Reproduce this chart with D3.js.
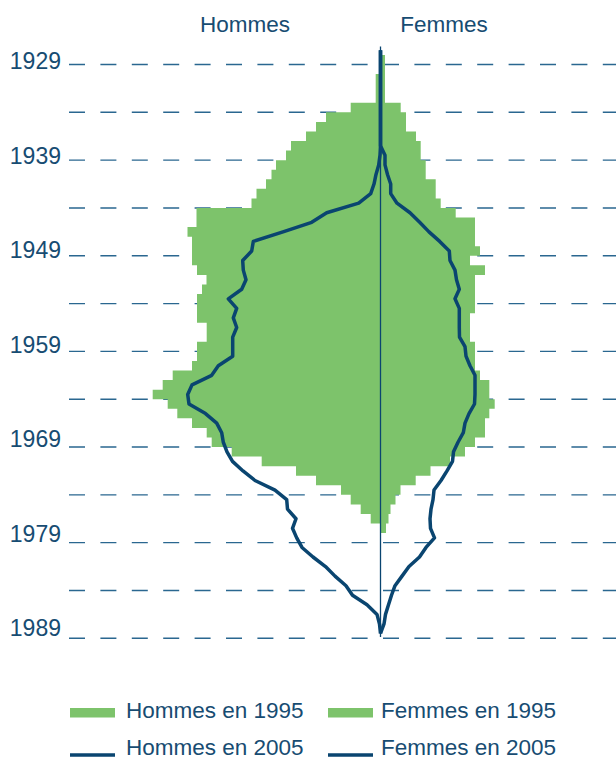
<!DOCTYPE html>
<html>
<head>
<meta charset="utf-8">
<script src="https://cdn.jsdelivr.net/npm/d3@7"></script>
<style>
  body { margin: 0; background: #fff; }
  text { font-family: "Liberation Sans", Arial, sans-serif; fill: #174c72; }
</style>
</head>
<body>
<script>
// birth years shown on the axis (one dashed line every 5 years, label every 10)
const gridYears = d3.range(1929, 1990, 5);
const labelYears = [1929, 1939, 1949, 1959, 1969, 1979, 1989];

// 1995 pyramid, one value per year of birth
const years1995 = d3.range(1928, 1978);
const hommes1995 = [
  0, 0, 4.8, 4.8, 4.8, 29.8, 54.5, 64.5, 74.5, 89.5,
  94.5, 104.5, 109, 114.5, 124, 129, 184, 184, 193, 188.5,
  188.5, 188.5, 183.5, 174, 178.5, 183.5, 183.5, 183.5, 173.8, 173.8,
  183.5, 183.5, 188.5, 207.8, 217.8, 227.8, 212.8, 203.2, 188.5, 173.8,
  168.8, 148.8, 118.8, 84.5, 64.5, 39.5, 29.8, 19.8, 9.8, 0
];
const femmes1995 = [
  4.5, 4.5, 4.5, 4.5, 4.5, 20.2, 25.5, 25.5, 35.5, 40.2,
  40.2, 45.2, 45.2, 55.2, 55.2, 60.2, 75.2, 94.5, 94.5, 94.5,
  99.5, 89.5, 104.5, 94.5, 94.5, 94.5, 94.5, 89.5, 89.5, 89.5,
  94.5, 94.5, 94.5, 99.5, 108.8, 108.8, 114.2, 108.8, 104.5, 104.5,
  94.5, 84.5, 69.5, 50, 35.2, 20, 15, 10, 8, 5.5
];

// 2005 profiles
const years2005 = d3.range(1927, 1989);
const hommes2005 = [
  0, 0, 0, 0, 0, 0, 0, 0, 0, 0,
  0, 0.5, 1.8, 4.5, 6.5, 9.8, 21.8, 53.8, 68.8, 97.5,
  127.2, 128.8, 137.8, 137.2, 134.5, 138.8, 152.2, 143.8, 147.2, 143.8,
  147.8, 147.8, 147.8, 162.2, 168.8, 188.5, 192.8, 191.5, 175, 163.8,
  158.8, 157.2, 153.5, 148, 137.5, 125.5, 105.5, 93.8, 93, 84.5,
  88, 83.8, 78.5, 67.5, 55, 45.5, 34.5, 28, 13.5, 3.5,
  1, 0
];
const femmes2005 = [
  0, 0, 0, 0, 0, 0, 0, 0, 0, 0,
  0, 4.5, 4.5, 7, 10.2, 10.2, 16.5, 29.5, 39.2, 48.5,
  59.2, 68.8, 69.5, 74.5, 76, 78.8, 74.5, 78.8, 78.8, 78.8,
  79, 84.5, 85.5, 89.5, 94.5, 94.5, 94.5, 94, 88.5, 84.5,
  82.8, 77.5, 73, 72, 66.5, 60.5, 53.5, 52.5, 50.5, 49.5,
  50, 54, 45.5, 39, 28.5, 21.5, 14.5, 11, 8, 5,
  3.5, 0
];

const legendItems = [
  { label: "Hommes en 1995", type: "area" },
  { label: "Femmes en 1995", type: "area" },
  { label: "Hommes en 2005", type: "line" },
  { label: "Femmes en 2005", type: "line" }
];

const W = 616, H = 760;
const green = "#7dc36b";
const navy = "#0a4570";
const dashCol = "#2a6790";

const svg = d3.select("body").append("svg")
  .attr("width", W)
  .attr("height", H);

// scales: men negative (left), women positive (right)
const x = d3.scaleLinear().domain([-240, 240]).range([140.5, 620.5]);
const y = d3.scaleLinear().domain([1929, 1989]).range([64.5, 638.3]);
const yLab = d3.scaleLinear().domain([1929, 1989]).range([69.3, 636]);

// dashed grid
svg.append("g")
  .selectAll("line")
  .data(gridYears)
  .join("line")
  .attr("x1", 69)
  .attr("x2", W)
  .attr("y1", (d) => y(d))
  .attr("y2", (d) => y(d))
  .attr("stroke", dashCol)
  .attr("stroke-width", 1.4)
  .attr("stroke-dasharray", "16,15.4");

// 1995 step areas
function steps(years, values, sign) {
  const pts = [];
  years.forEach((yr, i) => {
    pts.push({ v: sign * values[i], yr: yr });
    pts.push({ v: sign * values[i], yr: yr + 1 });
  });
  return pts;
}
const stepArea = d3.area()
  .y((d) => y(d.yr))
  .x0(x(0))
  .x1((d) => x(d.v));

svg.append("path")
  .datum(steps(years1995, hommes1995, -1))
  .attr("d", stepArea)
  .attr("fill", green);
svg.append("path")
  .datum(steps(years1995, femmes1995, 1))
  .attr("fill", green)
  .attr("d", stepArea);

// centre axis
svg.append("line")
  .attr("x1", x(0)).attr("x2", x(0))
  .attr("y1", 46.5).attr("y2", 637)
  .attr("stroke", navy)
  .attr("stroke-width", 1.3);

// 2005 lines
const line = d3.line()
  .x((d) => x(d.v))
  .y((d) => y(d.yr + 0.5));

svg.append("path")
  .datum(years2005.map((yr, i) => ({ yr: yr, v: -hommes2005[i] })))
  .attr("d", line)
  .attr("fill", "none")
  .attr("stroke", navy)
  .attr("stroke-width", 3.5)
  .attr("stroke-linejoin", "round");
svg.append("path")
  .datum(years2005.map((yr, i) => ({ yr: yr, v: femmes2005[i] })))
  .attr("d", line)
  .attr("fill", "none")
  .attr("stroke", navy)
  .attr("stroke-width", 3.5)
  .attr("stroke-linejoin", "round");

// year labels
svg.append("g")
  .selectAll("text")
  .data(labelYears)
  .join("text")
  .attr("x", 61)
  .attr("y", (d) => yLab(d))
  .attr("text-anchor", "end")
  .style("font-size", "23px")
  .text((d) => d);

// headers
svg.append("text")
  .attr("x", 245).attr("y", 32.3)
  .attr("text-anchor", "middle")
  .style("font-size", "22.5px")
  .text("Hommes");
svg.append("text")
  .attr("x", 444).attr("y", 32.3)
  .attr("text-anchor", "middle")
  .style("font-size", "22.5px")
  .text("Femmes");

// legend, 2 columns x 2 rows
const legend = svg.append("g")
  .selectAll("g")
  .data(legendItems)
  .join("g")
  .attr("transform", (d, i) => `translate(${i % 2 ? 328 : 70},${i < 2 ? 717.5 : 755})`);

legend.filter((d) => d.type === "area")
  .append("rect")
  .attr("x", 0).attr("y", -9.5)
  .attr("width", 45).attr("height", 9.5)
  .attr("fill", green);
legend.filter((d) => d.type === "line")
  .append("line")
  .attr("x1", 0).attr("x2", 45)
  .attr("y1", 0).attr("y2", 0)
  .attr("stroke", navy)
  .attr("stroke-width", 3.5);
legend.append("text")
  .attr("x", (d, i) => (i % 2 ? 53 : 56))
  .attr("y", 0)
  .style("font-size", "22.5px")
  .text((d) => d.label);
</script>
</body>
</html>
